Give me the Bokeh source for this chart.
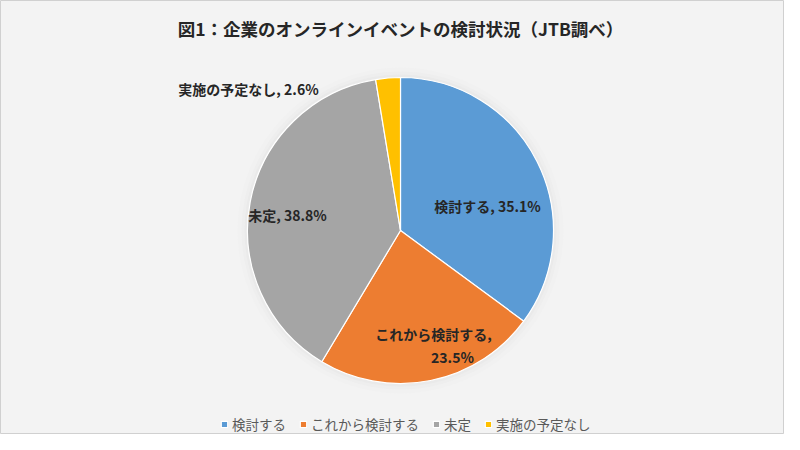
import math
from bokeh.plotting import figure
from bokeh.models import Range1d, ColumnDataSource, Legend, LegendItem
from bokeh.core.properties import value
from bokeh.embed import file_html
from bokeh.resources import INLINE

# ---- data ----
categories = ["検討する", "これから検討する", "未定", "実施の予定なし"]
shares = [35.1, 23.5, 38.8, 2.6]
colors = ["#5B9BD5", "#ED7D31", "#A5A5A5", "#FFC000"]
title_text = "図1：企業のオンラインイベントの検討状況（JTB調べ）"

# ---- layout (page pixel coords -> data coords) ----
W, H = 784, 434
def px(X):
    return X
def py(Y):
    return H - Y

cx, cy, r = px(400), py(230), 153

total = sum(shares)
starts, ends = [], []
acc = 0.0
for s in shares:
    starts.append(math.pi / 2 - acc / total * 2 * math.pi)
    acc += s
    ends.append(math.pi / 2 - acc / total * 2 * math.pi)

p = figure(width=W, height=H, x_range=Range1d(0, W), y_range=Range1d(0, H),
           x_axis_type=None, y_axis_type=None, toolbar_location=None,
           output_backend="svg", min_border=0)
p.grid.visible = False
p.background_fill_color = "#f3f3f3"
p.border_fill_color = "#f3f3f3"
p.outline_line_color = "#d0d0d0"

# faint shadow around pie
for k, a in [(10, 0.03), (6, 0.04), (3, 0.05)]:
    p.circle(x=[cx], y=[cy], radius=r + k, fill_color="#b0b0b0", fill_alpha=a,
             line_color=None)

renderers = []
for i in range(len(categories)):
    rr = p.wedge(x=cx, y=cy, radius=r, start_angle=starts[i], end_angle=ends[i],
                 direction="clock", fill_color=colors[i], line_color="white",
                 line_width=1.2)
    renderers.append(rr)

# data labels (category, value)
label_lines = [f"{categories[0]}, {shares[0]}%",
               f"{categories[1]},",
               f"{shares[1]}%",
               f"{categories[2]}, {shares[2]}%",
               f"{categories[3]}, {shares[3]}%"]
label_pos = [(487, 205), (433, 333), (452, 356), (287, 214), (248, 88)]
p.text(x=[px(a) for a, b in label_pos], y=[py(b) for a, b in label_pos],
       text=label_lines, text_align="center", text_baseline="middle",
       text_font=value("Noto Sans CJK JP"), text_font_style="bold",
       text_font_size="14px", text_color="#262626")

# title
p.text(x=[px(400)], y=[py(28)], text=[title_text], text_align="center",
       text_baseline="middle", text_font=value("Noto Sans CJK JP"),
       text_font_style="bold", text_font_size="17.5px", text_color="#262626")

legend = Legend(items=[LegendItem(label=c, renderers=[rr]) for c, rr in zip(categories, renderers)],
                orientation="horizontal", location=(220, 0),
                glyph_width=8, glyph_height=8, spacing=13,
                label_text_font="Noto Sans CJK JP", label_text_font_size="13.5px",
                label_text_color="#595959", background_fill_alpha=0,
                border_line_color=None, label_standoff=4, padding=0, margin=2)
p.add_layout(legend)

open("out.html", "w").write(file_html(p, INLINE))
